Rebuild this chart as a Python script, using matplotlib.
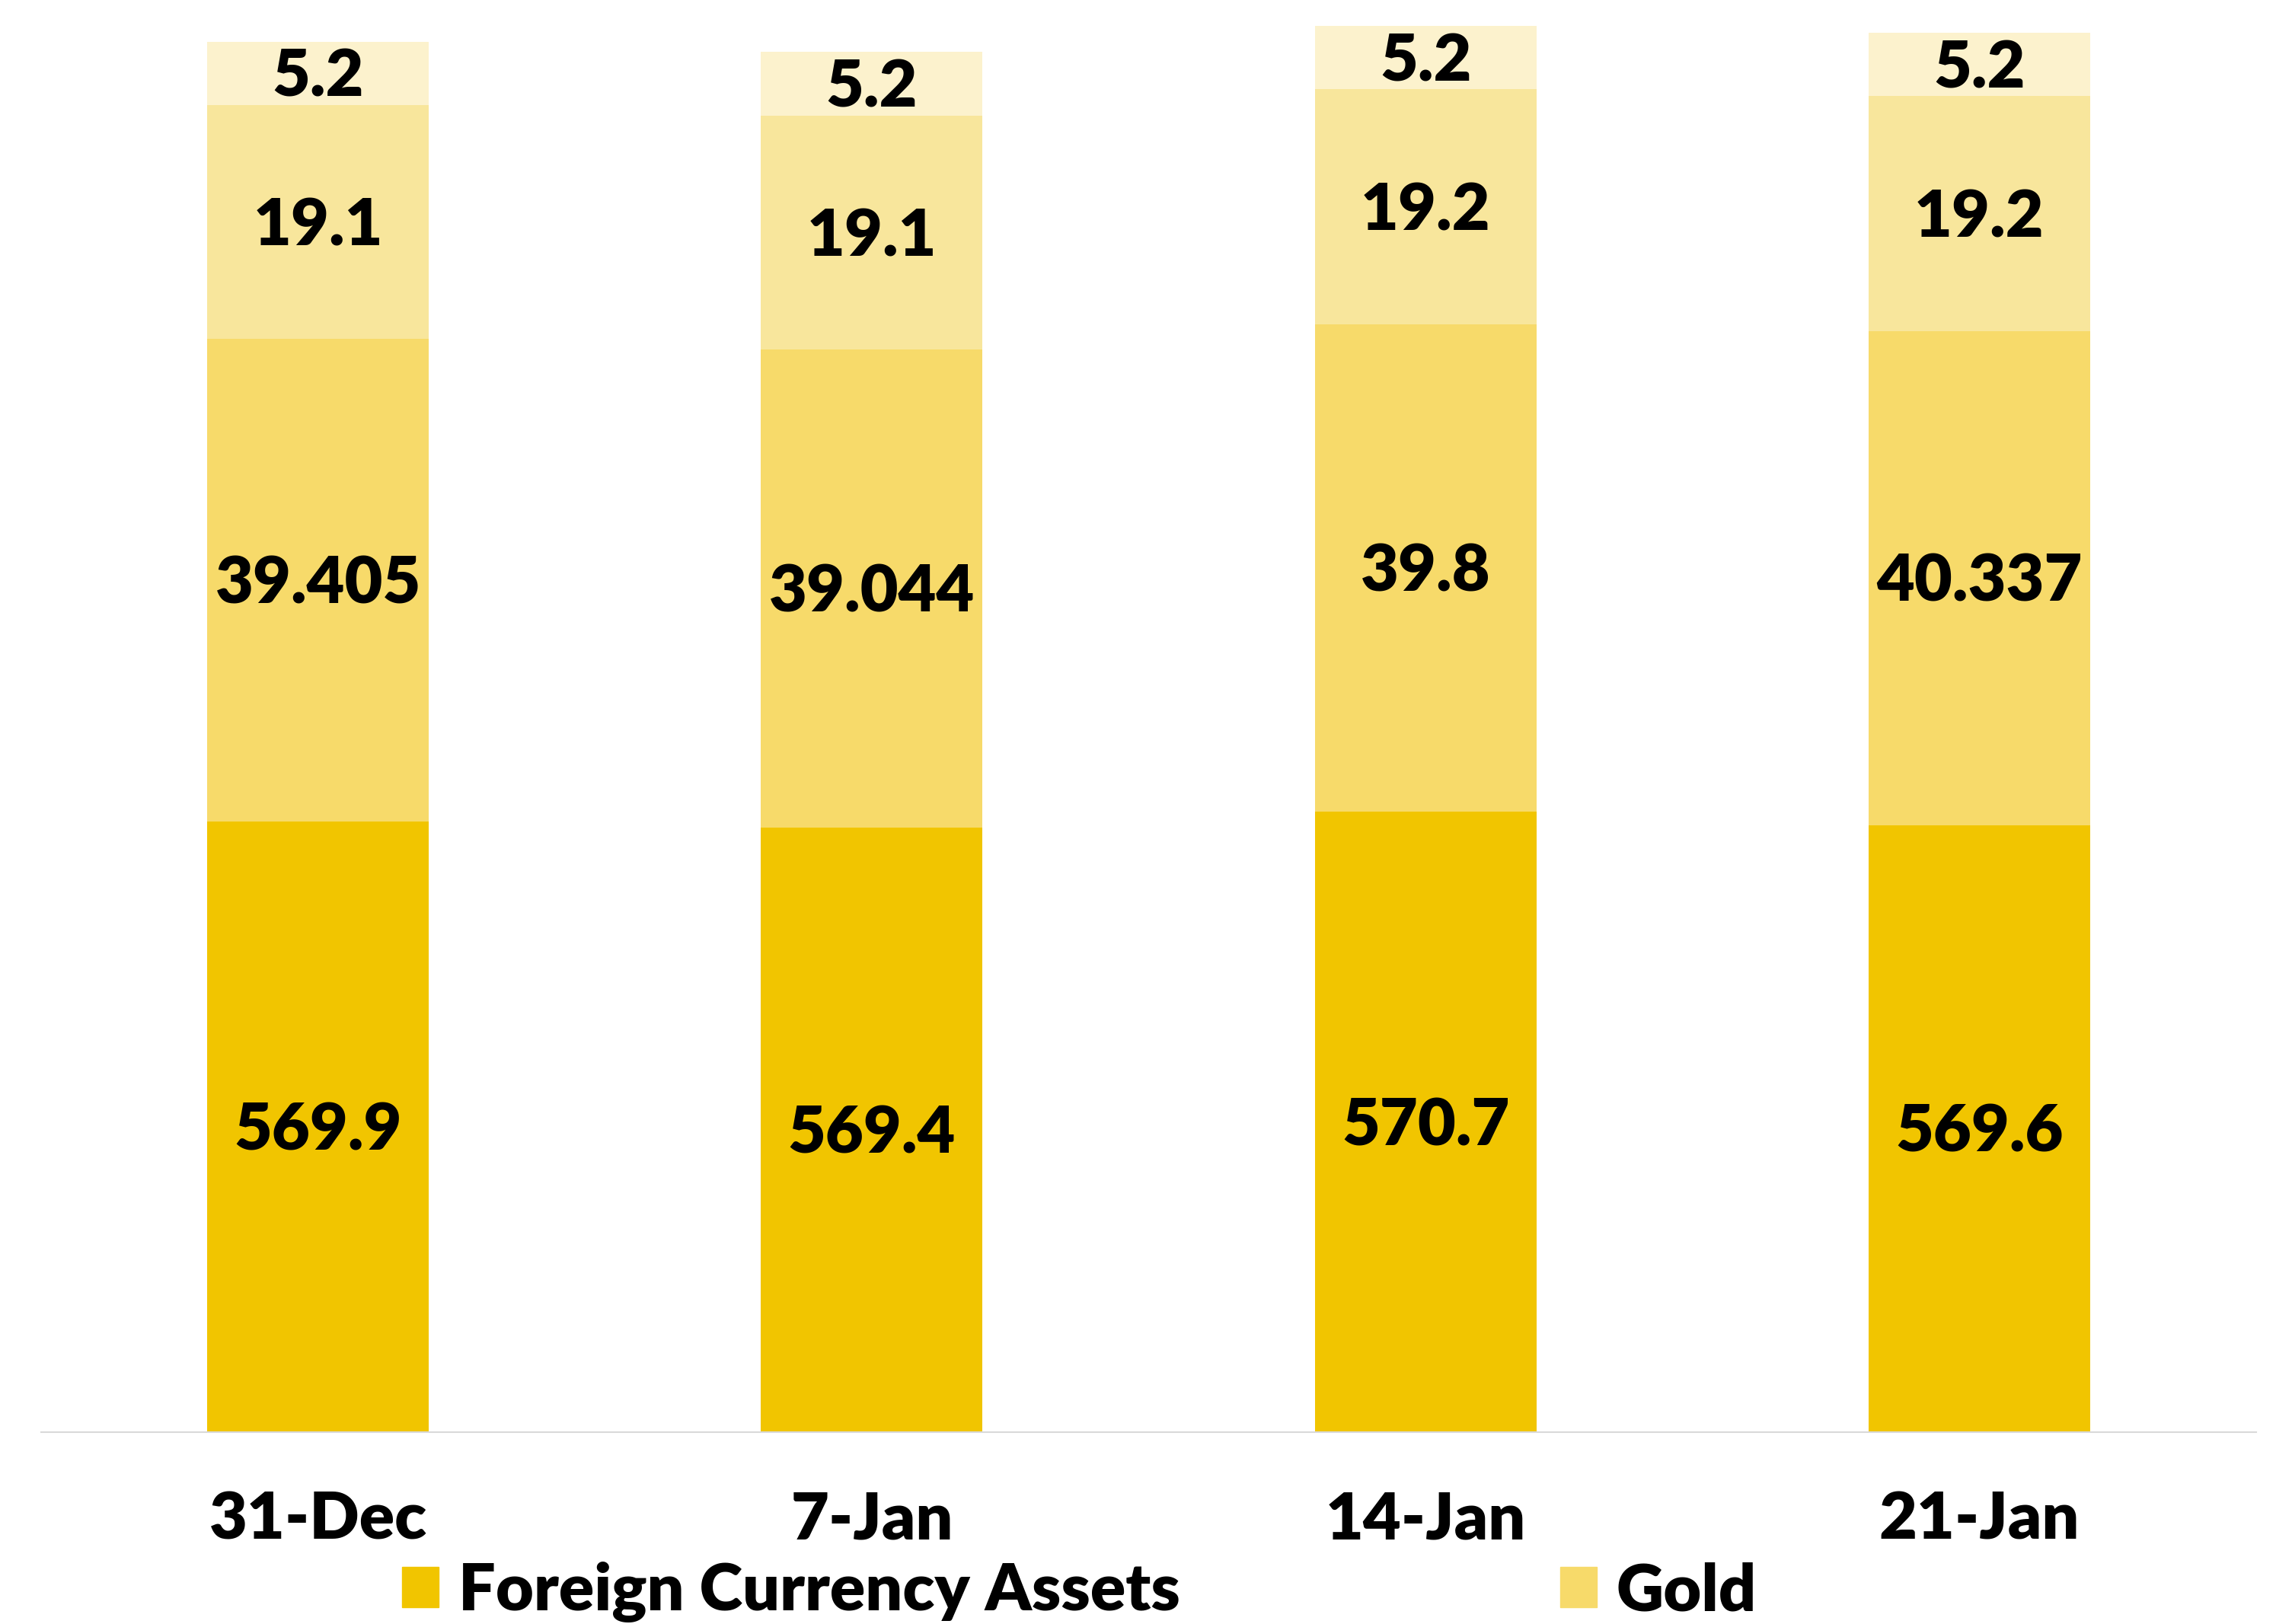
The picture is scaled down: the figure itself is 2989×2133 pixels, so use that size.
import numpy as np
import matplotlib
matplotlib.use('Agg')
import matplotlib.pyplot as plt
from matplotlib.patches import Patch

plt.rcParams['font.family'] = ['Lato', 'DejaVu Sans']

# weekly reserves, USD bn
dates = ['31-Dec', '7-Jan', '14-Jan', '21-Jan']
fca = [569.9, 569.4, 570.7, 569.6]
gold = [39.405, 39.044, 39.8, 40.337]
sdr = [19.1, 19.1, 19.2, 19.2]
imf = [5.2, 5.2, 5.2, 5.2]

fca_labels = ['569.9', '569.4', '570.7', '569.6']
gold_labels = ['39.405', '39.044', '39.8', '40.337']
sdr_labels = ['19.1', '19.1', '19.2', '19.2']
imf_labels = ['5.2', '5.2', '5.2', '5.2']

colors = ['#F1C500', '#F7DA6A', '#F8E69C', '#FCF2CD']

fig = plt.figure(figsize=(29.89, 21.33), dpi=100)
ax = fig.add_axes([0.0181, 0.1181, 0.9732, 0.8819])

x = np.arange(len(dates))
width = 0.4
base = 520
fsize = 62

bottom = np.zeros(len(dates))
layers = [(fca, fca_labels), (gold, gold_labels), (sdr, sdr_labels), (imf, imf_labels)]
for (vals, labels), col in zip(layers, colors):
    vals = np.array(vals)
    b = ax.bar(x, vals, width, bottom=bottom, color=col, linewidth=0)
    anns = ax.bar_label(b, labels=labels, label_type='center', fontsize=fsize,
                        fontweight='heavy', color='black')
    for a in anns:
        a.xyann = (0, -4)
    bottom = bottom + vals

ax.set_xlim(-0.5, 3.5)
ax.set_ylim(base, 637)
ax.set_xticks(x)
ax.set_xticklabels(dates, fontsize=fsize, fontweight='heavy')
ax.tick_params(axis='x', length=0, pad=55)
ax.set_yticks([])
for side in ['left', 'right', 'top']:
    ax.spines[side].set_visible(False)
ax.spines['bottom'].set_color('#D9D9D9')
ax.spines['bottom'].set_linewidth(1.5)

handles = [Patch(color=colors[0], label='Foreign Currency Assets'),
           Patch(color=colors[1], label='Gold')]
fig.legend(handles=handles, loc='center left', bbox_to_anchor=(528 / 2989, 1 - 2091 / 2133),
           ncol=2, frameon=False, borderpad=0, borderaxespad=0,
           handlelength=0.557, handleheight=0.557, handletextpad=0.30,
           columnspacing=5.8, prop={'size': fsize, 'weight': 'heavy'})

fig.savefig('out.png', dpi=100)
